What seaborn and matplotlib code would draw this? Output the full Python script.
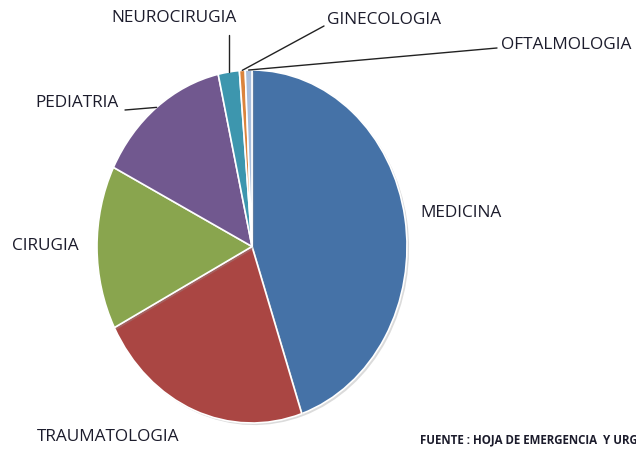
import numpy as np
import matplotlib
matplotlib.use("Agg")
import matplotlib.pyplot as plt
import matplotlib.patheffects as pe
import seaborn as sns

# datos (porcentaje aproximado por servicio)
servicios = ["MEDICINA", "TRAUMATOLOGIA", "CIRUGIA", "PEDIATRIA",
             "NEUROCIRUGIA", "GINECOLOGIA", "OFTALMOLOGIA"]
porcentajes = [44.8, 22.6, 15.0, 14.1, 2.2, 0.6, 0.7]
colores = ["#4572A7", "#AA4643", "#89A54E", "#71588F",
           "#3D96AE", "#DB843D", "#A8BEDD"]

sns.set_theme(style="white")
plt.rcParams["font.family"] = ["Open Sans", "DejaVu Sans"]

W, H = 636, 449
fig = plt.figure(figsize=(W / 100, H / 100), dpi=100)
# centro del pastel (252, 246.5) px, radios 155 x 176.5 px
cx, cy, rx, ry = 252, 246.5, 155, 176.5
ax = fig.add_axes([(cx - rx) / W, (H - cy - ry) / H, 2 * rx / W, 2 * ry / H])

palette = sns.color_palette(colores)
wedges, _ = ax.pie(porcentajes, colors=palette, startangle=90, counterclock=False,
                   radius=1.0,
                   wedgeprops=dict(edgecolor="white", linewidth=1.2))
for w in wedges:
    w.set_path_effects([pe.SimplePatchShadow(offset=(1.5, -1.5), shadow_rgbFace="#999999", alpha=0.35),
                        pe.Normal()])
ax.set_aspect("auto")
ax.set_xlim(-1, 1)
ax.set_ylim(-1, 1)
ax.axis("off")


def px2data(px, py):
    return (px - cx) / rx, (cy - py) / ry


def borde(w):
    ang = np.deg2rad((w.theta1 + w.theta2) / 2)
    return np.cos(ang), np.sin(ang)


# lineas guia (extremo libre en pixeles)
guias = {
    "PEDIATRIA": (125, 110),
    "NEUROCIRUGIA": None,
    "GINECOLOGIA": (324, 26),
    "OFTALMOLOGIA": (497, 48),
}
for nombre, fin in guias.items():
    w = wedges[servicios.index(nombre)]
    x0, y0 = borde(w)
    if fin is None:
        x1, y1 = x0, px2data(0, 35)[1]
    else:
        x1, y1 = px2data(*fin)
    ax.plot([x0, x1], [y0, y1], color="#222222", lw=1.0, clip_on=False)

# etiquetas (posicion en pixeles: borde izquierdo, centro vertical)
etiquetas = {
    "NEUROCIRUGIA": (111, 18),
    "GINECOLOGIA": (327, 20),
    "OFTALMOLOGIA": (501, 45),
    "PEDIATRIA": (35, 103),
    "CIRUGIA": (12, 246),
    "MEDICINA": (420, 213),
    "TRAUMATOLOGIA": (37, 437),
}
for nombre, (px, py) in etiquetas.items():
    fig.text(px / W, 1 - py / H, nombre, ha="left", va="center",
             fontsize=12.4, color="#1c1c2c")

fig.text(420 / W, 1 - 440 / H, "FUENTE : HOJA DE EMERGENCIA  Y URGENCIA",
         ha="left", va="center", fontsize=8.3, fontweight="bold", color="#1c1c2c")

fig.savefig("out.png", dpi=100)
